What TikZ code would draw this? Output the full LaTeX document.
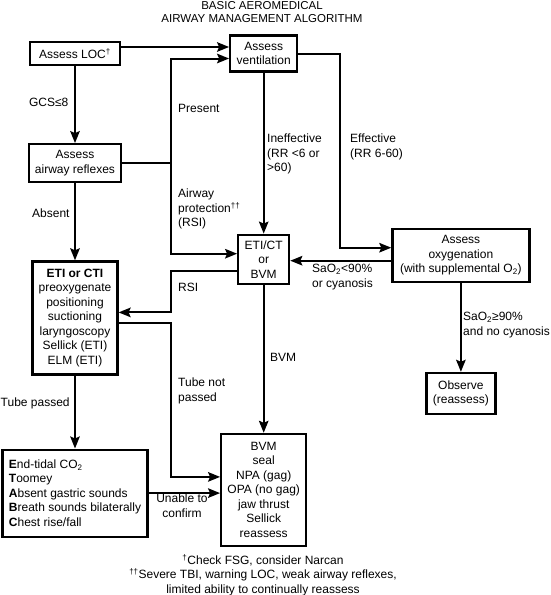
\documentclass[tikz,border=0pt]{standalone}
\usepackage{fontspec}
\setmainfont{Liberation Sans}
\usetikzlibrary{arrows.meta, positioning}

\begin{document}
\begin{tikzpicture}[
  x=1pt, y=-1pt,
  font=\fontsize{12}{14.5}\selectfont,
  box/.style  = {draw, line width=2.2pt, align=center, inner sep=1pt},
  arr/.style  = {-{Stealth[length=12pt, width=9.5pt, inset=2pt]}, line width=2pt},
  lbl/.style  = {inner sep=0pt, anchor=north west, align=left},
  ttl/.style  = {inner sep=0pt, anchor=north, align=center},
]
\useasboundingbox (0,0) rectangle (550,595);

\node[ttl, font=\fontsize{11.5}{13.4}\selectfont] (title) at (262,1)
  {BASIC AEROMEDICAL\\AIRWAY MANAGEMENT ALGORITHM};

\node[box, minimum width=90pt, minimum height=23pt]  (loc)  at (75,53.5) {Assess LOC\textsuperscript{†}};
\node[box, minimum width=67pt, minimum height=36pt, right=108pt of loc]  (vent) {Assess\\ventilation};
\node[box, minimum width=92pt, minimum height=38pt, below=77pt of loc]   (refl) {Assess\\airway reflexes};
\node[box, minimum width=85pt, minimum height=113pt, below=77pt of refl] (eti)
  {\textbf{ETI or CTI}\\preoxygenate\\positioning\\suctioning\\laryngoscopy\\Sellick (ETI)\\ELM (ETI)};
\node[box, minimum width=145pt, minimum height=87pt, below=73pt of eti, align=left] (etco)
  {\textbf{E}nd-tidal CO\textsubscript{2}\\\textbf{T}oomey\\\textbf{A}bsent gastric sounds\\\textbf{B}reath sounds bilaterally\\\textbf{C}hest rise/fall};
\node[box, minimum width=51pt, minimum height=49pt, below=161pt of vent] (eticb) {ETI/CT\\or\\BVM};
\node[box, minimum width=85pt, minimum height=112pt, below=148pt of eticb] (bvm)
  {BVM\\seal\\NPA (gag)\\OPA (no gag)\\jaw thrust\\Sellick\\reassess};
\node[box, minimum width=137pt, minimum height=53pt, right=101pt of eticb, yshift=4pt] (oxy)
  {Assess\\oxygenation\\(with supplemental O\textsubscript{2})};
\node[box, minimum width=69pt, minimum height=41pt, below=89pt of oxy] (obs) {Observe\\(reassess)};

\coordinate (bus) at (171,162);
\coordinate (effbend) at (340,246);

\draw[arr] ([yshift=6.5pt]loc.east) -- ([yshift=6.5pt]loc.east -| vent.west);
\draw[arr] (loc) -- (refl);
\draw[arr] (refl) -- (eti);
\draw[arr] (eti) -- (etco);
\draw[arr] (refl.east) -- (refl.east -| bus) |- ([yshift=-5pt]vent.west);
\draw[arr] (refl.east -| bus) |- ([yshift=5.5pt]eticb.west);
\draw[arr] (vent) -- (eticb);
\draw[arr] (vent.east) -| (effbend) |- ([yshift=7.5pt]oxy.west);
\draw[arr] ([yshift=-5.5pt]oxy.west) -- ([yshift=-5.5pt]oxy.west -| eticb.east);
\draw[arr] (oxy) -- (obs);
\draw[arr] ([yshift=-11.5pt]eticb.west) -| ([yshift=5.5pt]eti.east -| bus) -- ([yshift=5.5pt]eti.east);
\draw[arr] ([yshift=-5.5pt]eti.east) -| ([yshift=13pt]bvm.west -| bus) -- ([yshift=13pt]bvm.west);
\draw[arr] (eticb) -- (bvm);
\draw[arr] (etco.east) -- (etco.east -| bvm.west);

\node[lbl, anchor=north east] (gcs) at (68.5,98) {GCS≤8};
\node[lbl] (present) at (178,104) {Present};
\node[lbl] (ineff)   at (267,134) {Ineffective\\(RR <6 or\\>60)};
\node[lbl] (eff)     at (350,134) {Effective\\(RR 6-60)};
\node[lbl] (airprot) at (178,189) {Airway\\protection\textsuperscript{††}\\(RSI)};
\node[lbl] (absent)  at (32,209)  {Absent};
\node[lbl] (rsi)     at (178,283) {RSI};
\node[lbl] (bvmlbl)  at (270,353) {BVM};
\node[lbl] (tnp)     at (178,378) {Tube not\\passed};
\node[lbl] (tp)      at (0.5,398) {Tube passed};
\node[lbl] (satlo)   at (312,264) {SaO\textsubscript{2}<90\%\\or cyanosis};
\node[lbl] (sathi)   at (463,312) {SaO\textsubscript{2}≥90\%\\and no cyanosis};
\node[ttl] (unable)  at (182,494) {Unable to\\confirm};

\node[ttl] (foot) at (263,554)
  {\textsuperscript{†}Check FSG, consider Narcan\\
   \textsuperscript{††}Severe TBI, warning LOC, weak airway reflexes,\\
   limited ability to continually reassess};
\end{tikzpicture}
\end{document}
